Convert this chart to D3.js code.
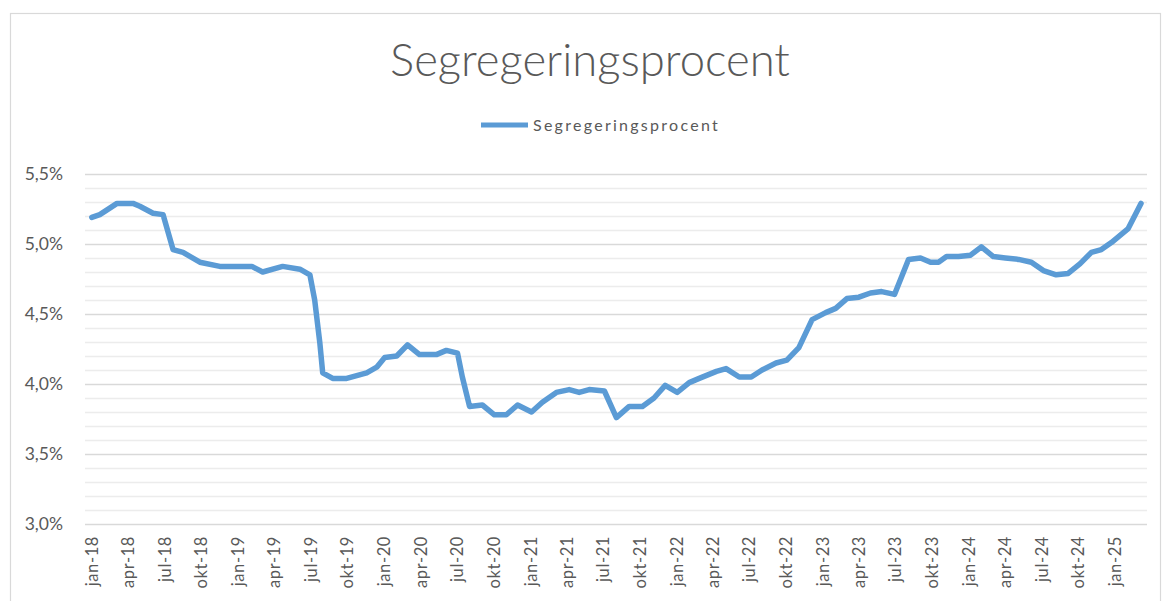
<!DOCTYPE html>
<html>
<head>
<meta charset="utf-8">
<script src="https://cdn.jsdelivr.net/npm/d3@7"></script>
<style>
  html, body { margin: 0; padding: 0; background: #ffffff; }
  svg { display: block; }
</style>
</head>
<body>
<svg id="chart" width="1164" height="601"></svg>
<script>
// ---- data ----
const chartTitle = "Segregeringsprocent";
const seriesName = "Segregeringsprocent";
const dates = [
  "2018-01-01","2018-01-21","2018-03-05","2018-04-14","2018-05-01","2018-06-03","2018-06-28",
  "2018-07-23","2018-08-17","2018-09-28","2018-11-17","2019-02-05","2019-03-04","2019-04-23",
  "2019-06-05","2019-06-30","2019-07-12","2019-07-25","2019-08-01","2019-08-26","2019-09-30",
  "2019-11-19","2019-12-14","2020-01-03","2020-02-02","2020-02-29","2020-03-30","2020-05-11",
  "2020-06-05","2020-07-03","2020-07-15","2020-08-02","2020-09-03","2020-10-03","2020-11-02",
  "2020-11-30","2021-01-04","2021-01-31","2021-03-07","2021-04-08","2021-05-03","2021-05-28",
  "2021-07-05","2021-08-04","2021-09-05","2021-10-08","2021-11-06","2021-12-04","2022-01-03",
  "2022-02-02","2022-02-27","2022-04-11","2022-05-05","2022-06-07","2022-07-07","2022-08-03",
  "2022-09-07","2022-10-04","2022-11-03","2022-12-06","2023-01-09","2023-02-03","2023-03-03",
  "2023-04-02","2023-05-01","2023-05-29","2023-06-30","2023-08-04","2023-09-03","2023-09-28",
  "2023-10-18","2023-11-07","2023-12-07","2024-01-06","2024-02-02","2024-03-03","2024-04-02",
  "2024-05-05","2024-06-06","2024-07-06","2024-08-07","2024-09-06","2024-10-06","2024-11-03",
  "2024-11-28","2024-12-23","2025-02-03","2025-03-07"
];
const values = [
  5.19, 5.21, 5.29, 5.29, 5.27, 5.22, 5.21,
  4.96, 4.94, 4.87, 4.84, 4.84, 4.80, 4.84,
  4.82, 4.78, 4.60, 4.29, 4.08, 4.04, 4.04,
  4.08, 4.12, 4.19, 4.20, 4.28, 4.21, 4.21,
  4.24, 4.22, 4.05, 3.84, 3.85, 3.78, 3.78,
  3.85, 3.80, 3.87, 3.94, 3.96, 3.94, 3.96,
  3.95, 3.76, 3.84, 3.84, 3.90, 3.99, 3.94,
  4.01, 4.04, 4.09, 4.11, 4.05, 4.05, 4.10,
  4.15, 4.17, 4.26, 4.46, 4.51, 4.54, 4.61,
  4.62, 4.65, 4.66, 4.64, 4.89, 4.90, 4.87,
  4.87, 4.91, 4.91, 4.92, 4.98, 4.91, 4.90,
  4.89, 4.87, 4.81, 4.78, 4.79, 4.86, 4.94,
  4.96, 5.01, 5.11, 5.29
];
const yMajorTicks = [3.0, 3.5, 4.0, 4.5, 5.0, 5.5];
const yMinorTicks = [3.1,3.2,3.3,3.4,3.6,3.7,3.8,3.9,4.1,4.2,4.3,4.4,4.6,4.7,4.8,4.9,5.1,5.2,5.3,5.4];
const monthNames = ["jan","feb","mar","apr","maj","jun","jul","aug","sep","okt","nov","dec"];
const xDomain = ["2017-12-15", "2025-03-22"];

// ---- layout ----
const svg = d3.select("#chart");
const parse = d3.timeParse("%Y-%m-%d");
const data = dates.map((d, i) => ({ date: parse(d), value: values[i] }));

const plot = { left: 85, right: 1147, top: 174, bottom: 524 };
const x = d3.scaleTime().domain(xDomain.map(parse)).range([plot.left, plot.right]);
const y = d3.scaleLinear().domain([3.0, 5.5]).range([plot.bottom, plot.top]);

const textColor = "#595959";
const font = "Lato, 'Open Sans', sans-serif";

// chart border
svg.append("rect")
  .attr("x", 10.5).attr("y", 13.5).attr("width", 1150).attr("height", 620)
  .attr("fill", "#fff").attr("stroke", "#d9d9d9").attr("stroke-width", 1.2);

function fit(sel, width) {
  const len = sel.node().getComputedTextLength();
  const fs = parseFloat(sel.attr("font-size"));
  sel.attr("font-size", fs * width / len);
}

// title
const title = svg.append("text")
  .attr("x", 590).attr("y", 76)
  .attr("text-anchor", "middle")
  .attr("font-family", font).attr("font-weight", 300)
  .attr("font-size", 40).attr("fill", textColor)
  .text(chartTitle);
fit(title, 400);

// legend
const legend = svg.append("g");
legend.append("line")
  .attr("x1", 481).attr("x2", 528).attr("y1", 125).attr("y2", 125)
  .attr("stroke", "#5B9BD5").attr("stroke-width", 5);
const legText = legend.append("text")
  .attr("x", 533).attr("y", 131)
  .attr("font-family", font).attr("font-size", 16)
  .attr("fill", textColor)
  .text(seriesName);
{
  const len = legText.node().getComputedTextLength();
  legText.attr("letter-spacing", (187 - len) / seriesName.length);
}

// gridlines
const yGrid = svg.append("g");
yGrid.selectAll("line.minor").data(yMinorTicks).join("line")
  .attr("class", "minor")
  .attr("x1", plot.left).attr("x2", plot.right)
  .attr("y1", d => Math.round(y(d)) + 0.5).attr("y2", d => Math.round(y(d)) + 0.5)
  .attr("stroke", "#ececec").attr("stroke-width", 1.5);
yGrid.selectAll("line.major").data(yMajorTicks).join("line")
  .attr("class", "major")
  .attr("x1", plot.left).attr("x2", plot.right)
  .attr("y1", d => Math.round(y(d)) + 0.5).attr("y2", d => Math.round(y(d)) + 0.5)
  .attr("stroke", "#d9d9d9").attr("stroke-width", 1.5);

// y axis labels
const yAxis = d3.axisLeft(y).tickValues(yMajorTicks)
  .tickFormat(d => d3.format(".1f")(d).replace(".", ",") + "%")
  .tickSize(0).tickPadding(22);
const gy = svg.append("g").attr("transform", `translate(${plot.left},0)`).call(yAxis);
gy.select(".domain").remove();
gy.selectAll("text").attr("font-family", font).attr("font-size", 17.5).attr("fill", textColor);

// x axis labels
const xTicks = d3.timeMonth.every(3).range(parse("2018-01-01"), parse("2025-02-01"));
const xAxis = d3.axisBottom(x).tickValues(xTicks)
  .tickFormat(d => monthNames[d.getMonth()] + "-" + d3.timeFormat("%y")(d))
  .tickSize(0);
const gx = svg.append("g").attr("transform", `translate(0,${plot.bottom})`).call(xAxis);
gx.select(".domain").remove();
gx.selectAll("text")
  .attr("font-family", font).attr("font-size", 16.5).attr("fill", textColor)
  .attr("text-anchor", "end")
  .attr("letter-spacing", 0.6)
  .attr("transform", "rotate(-90)")
  .attr("x", -12).attr("y", 0).attr("dy", "0.35em");

// line
const line = d3.line().x(d => x(d.date)).y(d => y(d.value));
svg.append("path")
  .datum(data)
  .attr("d", line)
  .attr("fill", "none")
  .attr("stroke", "#5B9BD5")
  .attr("stroke-width", 5.5)
  .attr("stroke-linejoin", "round")
  .attr("stroke-linecap", "round");
</script>
</body>
</html>
